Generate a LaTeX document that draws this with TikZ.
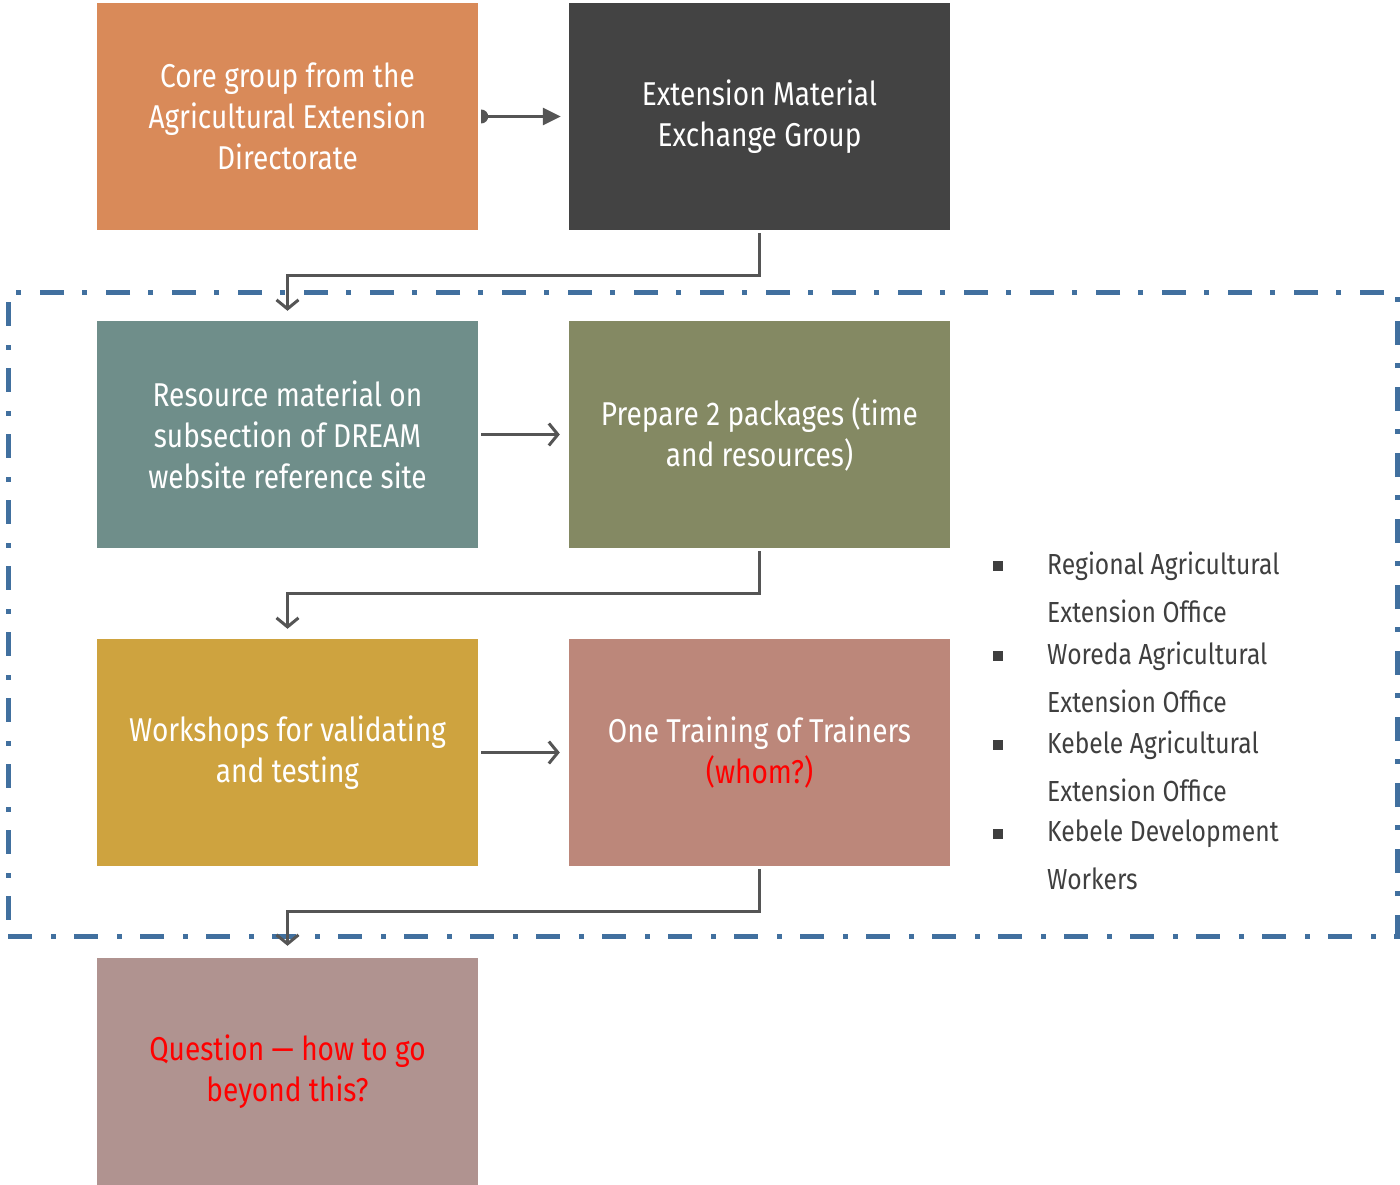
\documentclass[tikz,border=0pt]{standalone}
\usepackage{fontspec}
\setmainfont{Fira Sans}[FakeStretch=0.85]
\usetikzlibrary{arrows.meta, positioning}

\definecolor{coreorange}{HTML}{D98A59}
\definecolor{darkslate}{HTML}{434343}
\definecolor{tealgray}{HTML}{6F8E8A}
\definecolor{olive}{HTML}{848963}
\definecolor{gold}{HTML}{CEA33F}
\definecolor{dustyrose}{HTML}{BC877A}
\definecolor{mauve}{HTML}{B09390}
\definecolor{frameblue}{HTML}{41709F}
\definecolor{linkgray}{HTML}{555555}
\definecolor{listgray}{HTML}{3F3F3F}

\tikzset{
  stagebox/.style={minimum width=381pt, minimum height=227pt, inner sep=0pt,
    align=center, text=white, font=\fontsize{33}{41}\selectfont},
  link/.style={linkgray, line width=3pt, -{Straight Barb[length=9pt,width=22pt,line width=3pt]}},
  itemtext/.style={anchor=west, inner sep=0pt, text=listgray, font=\fontsize{29}{35}\selectfont},
  bulletsq/.style={fill=listgray, minimum size=10pt, inner sep=0pt}
}

\begin{document}
\begin{tikzpicture}[x=1pt,y=-1pt]
  \useasboundingbox (0,0) rectangle (1400,1185);

  % dash-dot frame round the middle stages
  \node[draw=frameblue, line width=5pt, dash pattern=on 24pt off 19pt on 5pt off 18pt,
    minimum width=1389pt, minimum height=644pt, inner sep=0pt] (frame) at (702.5,614) {};

  % stages
  \node[stagebox, fill=coreorange] (core) at (287.5,116.5)
    {Core group from the\\Agricultural Extension\\Directorate};
  \node[stagebox, fill=darkslate] (exchange) at (759.5,116.5)
    {Extension Material\\Exchange Group};
  \node[stagebox, fill=tealgray] (resource) at (287.5,434.5)
    {Resource material on\\subsection of DREAM\\website reference site};
  \node[stagebox, fill=olive] (packages) at (759.5,434.5)
    {Prepare 2 packages (time\\and resources)};
  \node[stagebox, fill=gold] (workshops) at (287.5,752.5)
    {Workshops for validating\\and testing};
  \node[stagebox, fill=dustyrose] (training) at (759.5,752.5)
    {One Training of Trainers\\\textcolor{red}{(whom?)}};
  \node[stagebox, fill=mauve, text=red] (question) at (287.5,1071.5)
    {Question --- how to go\\beyond this?};

  % connectors
  \fill[linkgray] ([shift={(3,-7)}]core.east) arc[start angle=90, end angle=-90, radius=7pt] -- cycle;
  \draw[linkgray, line width=3pt, shorten <=3pt, shorten >=8pt,
    -{Triangle[length=18pt,width=17pt]}] (core.east) -- (exchange.west);
  \draw[link, shorten <=3pt, shorten >=10pt] (exchange.south) -- ++(0,45) -| (resource.north);
  \draw[link, shorten <=3pt, shorten >=9pt] (resource.east) -- (packages.west);
  \draw[link, shorten <=3pt, shorten >=10pt] (packages.south) -- ++(0,45) -| (workshops.north);
  \draw[link, shorten <=3pt, shorten >=9pt] (workshops.east) -- (training.west);
  \draw[link, shorten <=3pt, shorten >=12pt] (training.south) -- ++(0,45) -| (question.north);

  % who is trained
  \foreach \y/\first/\second [count=\i] in {
      566/Regional Agricultural/Extension Office,
      656/Woreda Agricultural/Extension Office,
      745/Kebele Agricultural/Extension Office,
      834/Kebele Development/Workers} {
    \node[bulletsq] (bullet\i) at (998,\y) {};
    \node[itemtext] (item\i a) at (1047,\y) {\first};
    \node[itemtext] (item\i b) at (1047,\y+45) {\second};
  }
\end{tikzpicture}
\end{document}
